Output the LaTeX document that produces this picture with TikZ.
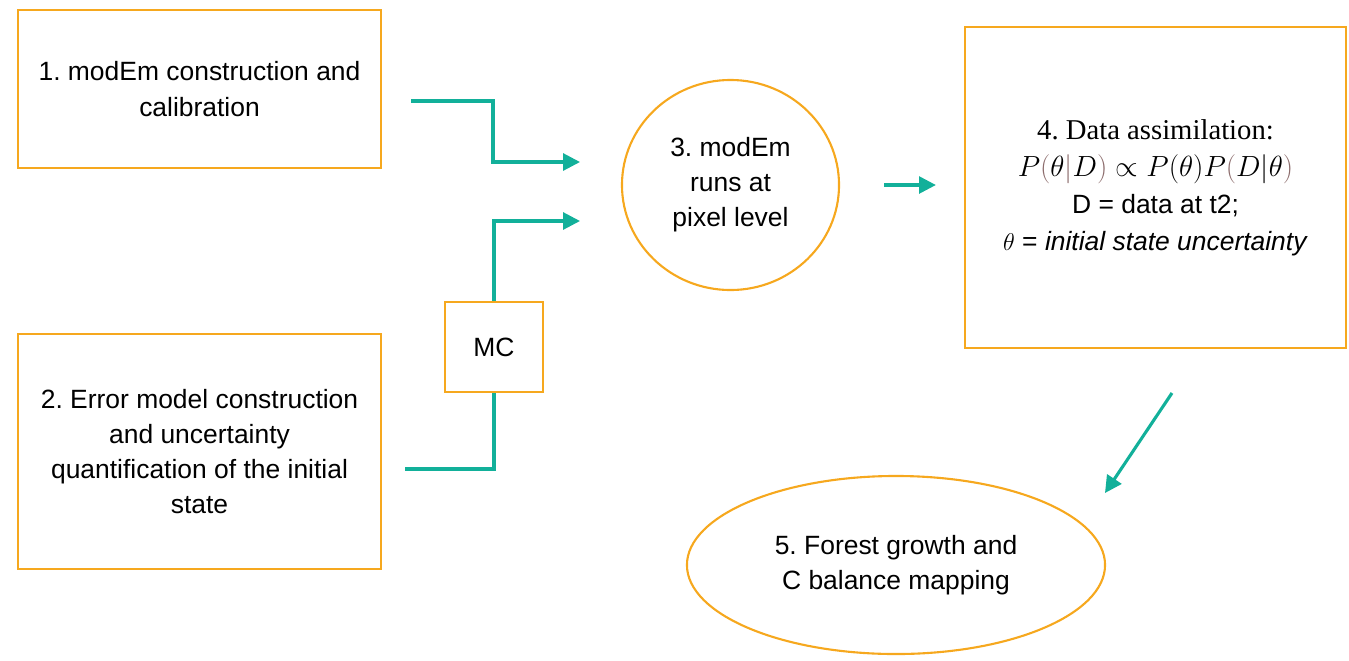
\documentclass[tikz,border=0pt]{standalone}
\usepackage{fontspec}
\setmainfont{Liberation Sans}
\newfontfamily\titlefont{Liberation Serif}
\usetikzlibrary{arrows.meta,shapes.geometric}
\definecolor{boxorange}{RGB}{246,168,30}
\definecolor{flowteal}{RGB}{18,176,154}
\definecolor{parcol}{RGB}{140,108,108}
\tikzset{
  stage/.style={draw=boxorange, line width=1.5pt, align=center, inner sep=0pt,
    font=\fontsize{18.8}{25}\selectfont},
  blob/.style={stage, ellipse},
  link/.style={draw=flowteal, line width=2.2pt},
  flow/.style={link, -{Triangle[length=12pt,width=12pt]}}
}
\newcommand{\pp}[1]{\textcolor{parcol}{#1}}
\frenchspacing
\begin{document}
\begin{tikzpicture}[x=0.025cm,y=-0.025cm]
\useasboundingbox (0,0) rectangle (1349,660);
% boxes and ellipses
\node[stage, minimum width=9.075cm, minimum height=3.95cm] (calib) at (199.5,89)
  {1. modEm construction and\\calibration};
\node[stage, minimum width=9.075cm, minimum height=5.875cm] (error) at (199.5,451.5)
  {2. Error model construction\\and uncertainty\\quantification of the initial\\state};
\node[stage, minimum width=2.45cm, minimum height=2.25cm] (mc) at (494,347) {MC};
\node[blob, minimum width=5.425cm, minimum height=5.25cm] (runs) at (730.5,185)
  {3. modEm\\runs at\\pixel level};
\node[stage, minimum width=9.525cm, minimum height=8.025cm] (assim) at (1155.5,187.5)
  {{\titlefont\fontsize{20.4}{25}\selectfont 4. Data assimilation:}\\[1.3pt]
   {\fontsize{22}{25}\selectfont$P\pp{(}\theta\pp{|}D\pp{)}\propto P(\theta)P\pp{(}D|\theta\pp{)}$}\\[1.3pt]
   D = data at t2;\\[1.3pt]
   $\theta$ = \textit{initial state uncertainty}};
\node[blob, minimum width=10.45cm, minimum height=4.45cm] (forest) at (896,565)
  {5. Forest growth and\\C balance mapping};
% connectors
\coordinate (s1) at (411,101);
\coordinate (t1) at (580,162);
\coordinate (t2) at (580,221);
\coordinate (s2) at (405,469);
\coordinate (s4) at (1172,393);
\coordinate (t4) at (1105,493);
\draw[flow] (s1) -- ++(82,0) |- (t1);
\draw[flow] (mc.north) |- (t2);
\draw[link] (s2) -| (mc.south);
\draw[flow, shorten <=1.1cm, shorten >=0.7cm] (runs.east) -- (runs.east -| assim.west);
\draw[flow] (s4) -- (t4);
\end{tikzpicture}
\end{document}
